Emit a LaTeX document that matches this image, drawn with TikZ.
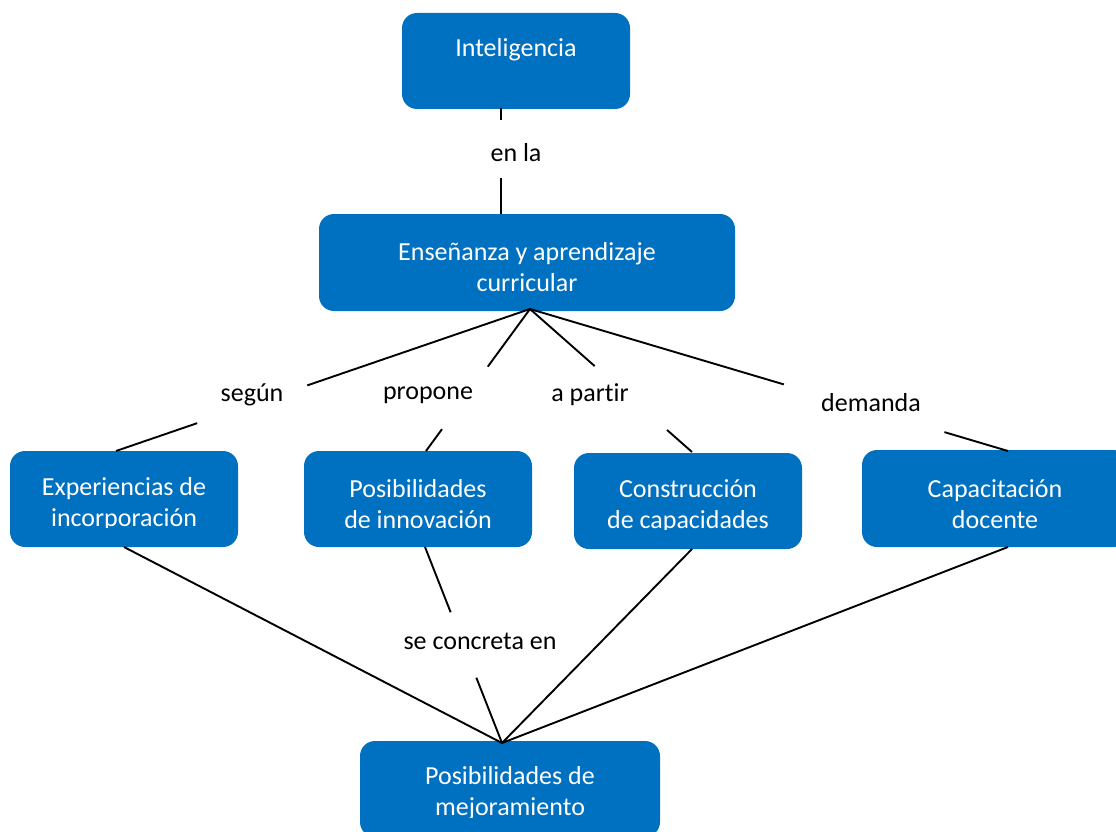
\documentclass[tikz,border=0pt]{standalone}
\usepackage{fontspec}
\setmainfont{Carlito}[Ligatures=NoCommon]
\usetikzlibrary{calc}
\definecolor{boxblue}{RGB}{0,112,192}
\tikzset{
  cbox/.style={draw=none, fill=boxblue, rounded corners=15pt, inner sep=0pt},
  btext/.style={text=white, align=center, font=\fontsize{26}{31}\selectfont, inner sep=0pt},
  ltext/.style={text=black, font=\fontsize{26}{31}\selectfont, inner sep=0pt},
  conn/.style={line width=1.9pt, draw=black},
}
\begin{document}
\begin{tikzpicture}[x=1pt,y=-1pt]
\useasboundingbox (0,0) rectangle (1116,832);
% boxes
\node[cbox, minimum width=228pt, minimum height=96pt] (intel) at (516,61) {};
\node[cbox, minimum width=416pt, minimum height=97pt] (ens) at (527,262.5) {};
\node[cbox, minimum width=228pt, minimum height=96pt] (exp) at (124,499) {};
\node[cbox, minimum width=228pt, minimum height=96pt] (inn) at (418,499) {};
\node[cbox, minimum width=228pt, minimum height=96pt] (cons) at (688,501) {};
\node[cbox, minimum width=266pt, minimum height=97pt] (cap) at (995,498.5) {};
\node[cbox, minimum width=300pt, minimum height=96pt] (mej) at (510,789) {};
% box texts
\node[btext] (tintel) at (516,50) {Inteligencia};
\node[btext] (tens) at (527,267.5) {Enseñanza y aprendizaje\\curricular};
\begin{scope}
\clip (0,440) rectangle (1116,527.5);
\node[btext] (texp) at (124,504.5) {Experiencias de\\incorporación};
\node[btext] (tinn) at (418,504) {Posibilidades\\de innovación};
\end{scope}
\begin{scope}
\clip (0,440) rectangle (1116,529.5);
\node[btext] (tcons) at (688,506) {Construcción\\de capacidades};
\end{scope}
\node[btext] (tcap) at (995,504) {Capacitación\\docente};
\begin{scope}
\clip (0,740) rectangle (1116,817);
\node[btext] (tmej) at (510,793.5) {Posibilidades de\\mejoramiento};
\end{scope}
% anchor points
\coordinate (hub) at (530,309);
\coordinate (hub2) at (502,743);
\coordinate (intelB) at (501,108);
\coordinate (ensT) at (501,214);
\coordinate (expT) at (116,451);
\coordinate (innT) at (426,451);
\coordinate (consT) at (692,452);
\coordinate (capT) at (1008,451);
\coordinate (expB) at (124,547);
\coordinate (innB) at (425,547);
\coordinate (consB) at (692,549);
\coordinate (capB) at (1008,547);
% labels
\node[ltext] (lenla) at (516,153) {en la};
\node[ltext] (lsegun) at (252,395) {según};
\node[ltext] (lpropone) at (428,395) {propone};
\node[ltext] (lapartir) at (590,395) {a partir};
\node[ltext] (ldemanda) at (871,403) {demanda};
\node[ltext] (lconcreta) at (480,641) {se concreta en};
% connectors
\draw[conn] (intelB) -- ($(intelB)!0.11!(ensT)$);
\draw[conn] ($(intelB)!0.66!(ensT)$) -- (ensT);
\draw[conn] (hub) -- ($(hub)!0.538!(expT)$);
\draw[conn] ($(hub)!0.804!(expT)$) -- (expT);
\draw[conn] (hub) -- ($(hub)!0.406!(innT)$);
\draw[conn] ($(hub)!0.846!(innT)$) -- (innT);
\draw[conn] (hub) -- ($(hub)!0.399!(consT)$);
\draw[conn] ($(hub)!0.846!(consT)$) -- (consT);
\draw[conn] (hub) -- ($(hub)!0.531!(capT)$);
\draw[conn] ($(hub)!0.867!(capT)$) -- (capT);
\draw[conn] (expB) -- (hub2);
\draw[conn] (innB) -- ($(innB)!0.333!(hub2)$);
\draw[conn] ($(innB)!0.667!(hub2)$) -- (hub2);
\draw[conn] (consB) -- (hub2);
\draw[conn] (capB) -- (hub2);
\end{tikzpicture}
\end{document}
